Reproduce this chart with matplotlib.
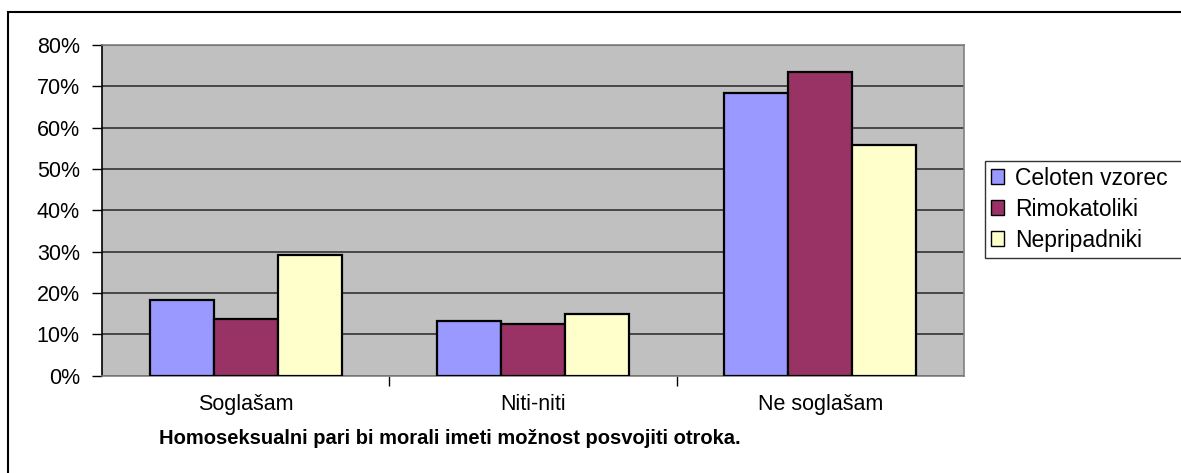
import matplotlib
matplotlib.use("Agg")
import matplotlib.pyplot as plt
import matplotlib.patches as mpatches
from matplotlib.ticker import FuncFormatter, MultipleLocator
import numpy as np

plt.rcParams['font.family'] = ['Liberation Sans', 'DejaVu Sans']

# -- data --
categories = ["Soglašam", "Niti-niti", "Ne soglašam"]
series_names = ["Celoten vzorec", "Rimokatoliki", "Nepripadniki"]
celoten = [18.2, 13.1, 68.5]
rimokatoliki = [13.6, 12.4, 73.4]
nepripadniki = [29.1, 14.8, 55.9]
title = "Homoseksualni pari bi morali imeti možnost posvojiti otroka."

colors = ["#9999FF", "#993366", "#FFFFCC"]

W, H = 1181, 473
fig = plt.figure(figsize=(W / 100, H / 100), dpi=100)
ax = fig.add_axes([102 / W, 1 - 375.5 / H, (964 - 102) / W, (375.5 - 45) / H])

x = np.arange(len(categories))
bw = 0.223
for i, (vals, name, c) in enumerate(zip([celoten, rimokatoliki, nepripadniki], series_names, colors)):
    ax.bar(x + (i - 1) * bw, vals, bw, color=c, edgecolor="black", linewidth=1.6,
           label=name, zorder=3)

ax.set_facecolor("#C0C0C0")
ax.set_xlim(-0.5, 2.5)
ax.set_ylim(0, 80)
ax.yaxis.set_major_locator(MultipleLocator(10))
ax.yaxis.set_major_formatter(FuncFormatter(lambda v, p: f"{int(v)}%"))
ax.grid(axis="y", color="#333333", linewidth=1.2, zorder=1)

# ticks sit between the categories, labels sit under the groups
ax.set_xticks([0.5, 1.5], minor=False)
ax.set_xticklabels([])
ax.set_xticks(x, minor=True)
ax.set_xticklabels(categories, minor=True)
ax.tick_params(axis="x", which="major", length=7, width=1, color="black", direction="out")
ax.tick_params(axis="x", which="minor", length=0, pad=13, labelsize=15.5)
ax.tick_params(axis="y", length=7, width=1, color="black", labelsize=15.5, pad=9)

for s in ["top", "right", "bottom"]:
    ax.spines[s].set_color("#808080")
    ax.spines[s].set_linewidth(1.2)
ax.spines["left"].set_color("black")
ax.spines["left"].set_linewidth(1.2)

fig.text(450 / W, 1 - 438 / H, title, ha="center", va="center",
         fontsize=14.5, fontweight="bold")

# legend box runs off the right edge, like the original
leg = ax.legend(loc="upper left",
                bbox_to_anchor=(985 / W, 1 - 259 / H, 215 / W, 98 / H),
                mode="expand",
                bbox_transform=fig.transFigure, borderaxespad=0, fancybox=False,
                edgecolor="black", fontsize=16.5, handlelength=0.6, handleheight=0.6,
                handletextpad=0.45, labelspacing=0.35, borderpad=0.25)
leg.get_frame().set_linewidth(1.0)
for h in leg.legend_handles:
    h.set_linewidth(1.0)

# outer chart border
fig.patches.append(mpatches.Rectangle((8 / W, -0.05), 1.1, 1 - 12 / H + 0.05,
                                      transform=fig.transFigure, fill=False,
                                      edgecolor="black", linewidth=1.5))

fig.savefig("out.png", dpi=100)
